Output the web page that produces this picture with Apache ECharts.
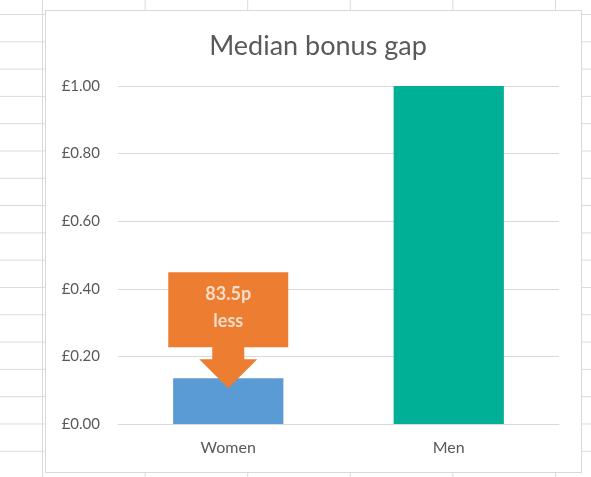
<!DOCTYPE html>
<html>
<head>
<meta charset="utf-8">
<script src="https://cdn.jsdelivr.net/npm/echarts@6/dist/echarts.min.js"></script>
<style>
  html, body { margin: 0; padding: 0; }
  body {
    width: 591px; height: 477px; overflow: hidden; position: relative;
    background-color: #fff;
    background-image: linear-gradient(to bottom, #dadada 1px, transparent 1px),
                      linear-gradient(to right, #dadada 1px, transparent 1px);
    background-size: 102.6px 27.3px;
    background-position: 42px 14px;
  }
  #frame { position: absolute; left: 45px; top: 10px; width: 535px; height: 461px;
           border: 1px solid #d9d9d9; background: #fff; }
  #main { position: absolute; left: 0; top: 0; width: 591px; height: 477px; }
</style>
</head>
<body>
<div id="frame"></div>
<div id="main"></div>
<script>
// data
var categories = ['Women', 'Men'];
var bonusValues = [0.135, 1.0];
var barColors = ['#5b9bd5', '#00b096'];
var gapLabel = ['83.5p', 'less'];

var chart = echarts.init(document.getElementById('main'))

chart.setOption({
  textStyle: { fontFamily: 'Lato, "Liberation Sans", sans-serif' },
  title: {
    text: 'Median bonus gap',
    left: 313, top: 28, textAlign: 'center',
    textStyle: { fontSize: 27, fontWeight: 'normal', color: '#595959', fontFamily: 'Lato, sans-serif' }
  },
  grid: { left: 118, right: 32, top: 86, bottom: 53 },
  xAxis: {
    type: 'category',
    data: categories,
    axisLine: { lineStyle: { color: '#d9d9d9' } },
    axisTick: { show: false },
    axisLabel: { color: '#595959', fontSize: 16, margin: 16 }
  },
  yAxis: {
    type: 'value',
    min: 0, max: 1, interval: 0.2,
    axisLine: { show: false },
    axisTick: { show: false },
    splitLine: { lineStyle: { color: '#d9d9d9' } },
    axisLabel: {
      color: '#595959', fontSize: 15, margin: 18,
      formatter: function (v) { return '£' + v.toFixed(2) }
    }
  },
  series: [
    {
      type: 'bar',
      barWidth: '50%',
      data: bonusValues.map(function (v, i) {
        return { value: v, itemStyle: { color: barColors[i] } }
      })
    },
    {
      // callout arrow pointing at the women's bar
      type: 'custom',
      z: 10,
      silent: true,
      data: [[0, bonusValues[0]]],
      renderItem: function (params, api) {
        var p = api.coord([api.value(0), api.value(1)]);
        var x = p[0], y = p[1];
        var pts = [
          [x - 60, y - 106], [x + 60, y - 106], [x + 60, y - 31],
          [x + 16, y - 31], [x + 16, y - 19], [x + 29, y - 19],
          [x, y + 10],
          [x - 29, y - 19], [x - 16, y - 19], [x - 16, y - 31],
          [x - 60, y - 31]
        ];
        return {
          type: 'group',
          children: [
            { type: 'polygon', shape: { points: pts }, style: { fill: '#ed7d31' } },
            {
              type: 'text',
              x: x, y: y - 71,
              style: {
                text: gapLabel.join('\n'),
                fill: '#f5dccb',
                font: 'bold 18px Lato, sans-serif',
                lineHeight: 27,
                align: 'center',
                verticalAlign: 'middle'
              }
            }
          ]
        }
      }
    }
  ]
});
</script>
</body>
</html>
